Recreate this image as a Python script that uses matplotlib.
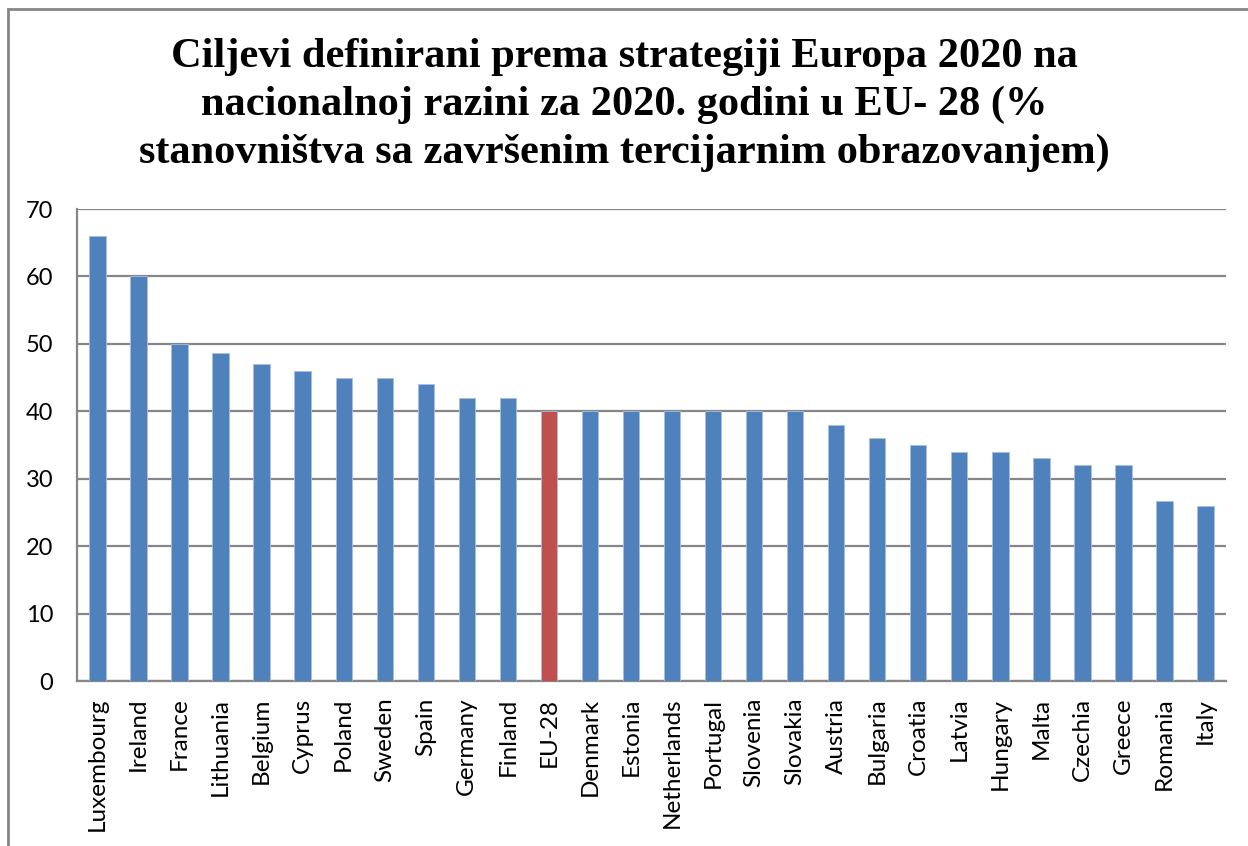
import numpy as np
import matplotlib
matplotlib.use("Agg")
import matplotlib.pyplot as plt
from matplotlib.patches import Rectangle

# countries and target values (% population with tertiary education)
countries = ["Luxembourg", "Ireland", "France", "Lithuania", "Belgium", "Cyprus", "Poland",
             "Sweden", "Spain", "Germany", "Finland", "EU-28", "Denmark", "Estonia",
             "Netherlands", "Portugal", "Slovenia", "Slovakia", "Austria", "Bulgaria",
             "Croatia", "Latvia", "Hungary", "Malta", "Czechia", "Greece", "Romania", "Italy"]
values = [66, 60, 50, 48.7, 47, 46, 45, 45, 44, 42, 42, 40, 40, 40,
          40, 40, 40, 40, 38, 36, 35, 34, 34, 33, 32, 32, 26.7, 26]
yticks = [0, 10, 20, 30, 40, 50, 60, 70]

title = ("Ciljevi definirani prema strategiji Europa 2020 na\n"
         "nacionalnoj razini za 2020. godini u EU- 28 (%\n"
         "stanovništva sa završenim tercijarnim obrazovanjem)")

blue = "#4F81BD"
red = "#C0504D"
grid_col = "#868686"

fig = plt.figure(figsize=(12.48, 8.46), dpi=100)
ax = fig.add_axes([77/1248, 1-681/846, (1226-77)/1248, (681-209)/846])

# chart area border
fig.patches.append(Rectangle((8/1248, -0.05), 1.2, (846-9)/846 + 0.05,
                             transform=fig.transFigure, fill=False,
                             edgecolor=grid_col, linewidth=2))

x = np.arange(len(countries))
colors = [red if c == "EU-28" else blue for c in countries]
ax.bar(x, values, width=0.4, color=colors, edgecolor="#A7C0DE", linewidth=0.6, zorder=3)

ax.set_xlim(-0.5, len(countries) - 0.5)
ax.set_ylim(0, 70)
ax.set_yticks(yticks)
ax.yaxis.grid(True, color=grid_col, linewidth=1.6)
ax.set_axisbelow(True)
for s in ["top", "right"]:
    ax.spines[s].set_visible(False)
ax.spines["left"].set_color(grid_col)
ax.spines["left"].set_linewidth(1.6)
ax.spines["bottom"].set_color(grid_col)
ax.spines["bottom"].set_linewidth(1.6)
ax.tick_params(axis="y", length=0, pad=17, labelsize=17)
ax.tick_params(axis="x", length=0, pad=12)
ax.set_xticks(x)
ax.set_xticklabels(countries, rotation=90, fontsize=17.5, family="Lato")
for lab in ax.get_yticklabels():
    lab.set_family("Lato")

fig.text(0.5, 1 - 38/846, title, ha="center", va="top", fontsize=30.5, fontweight="bold",
         family="Liberation Serif", linespacing=1.32)

fig.savefig("out.png", dpi=100)
